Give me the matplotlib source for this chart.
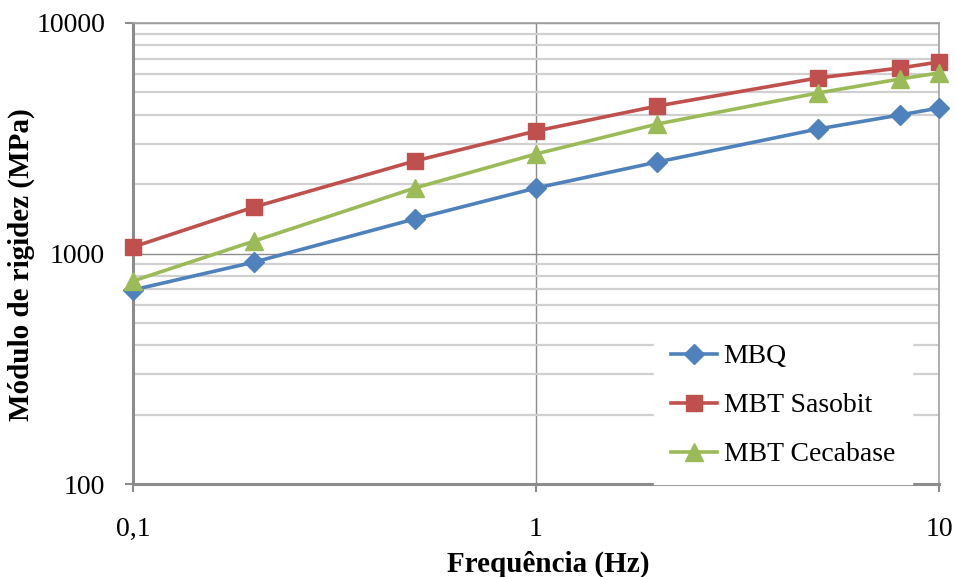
import matplotlib.pyplot as plt
import matplotlib
from matplotlib.ticker import FixedLocator, NullFormatter, FixedFormatter

matplotlib.rcParams['font.family'] = ['Liberation Serif', 'DejaVu Serif']

freq = [0.1, 0.2, 0.5, 1, 2, 5, 8, 10]
mbq = [695, 918, 1412, 1923, 2494, 3467, 3990, 4277]
sasobit = [1067, 1592, 2519, 3400, 4365, 5772, 6379, 6772]
cecabase = [760, 1133, 1923, 2703, 3646, 4969, 5715, 6070]

y_ticks = [100, 1000, 10000]
y_labels = ["100", "1000", "10000"]
x_ticks = [0.1, 1, 10]
x_labels = ["0,1", "1", "10"]

fig = plt.figure(figsize=(9.56, 5.77), dpi=100)
ax = fig.add_axes([133 / 956, 1 - 484 / 577, (939 - 133) / 956, (484 - 23) / 577])

ax.set_xscale("log")
ax.set_yscale("log")
ax.set_xlim(0.1, 10)
ax.set_ylim(100, 10000)

ax.plot(freq, mbq, color="#4F81BD", linewidth=2.6, marker="D", markersize=10, label="MBQ", clip_on=False, zorder=3)
ax.plot(freq, sasobit, color="#C0504D", linewidth=2.6, marker="s", markersize=11.5, label="MBT Sasobit", clip_on=False, zorder=3)
ax.plot(freq, cecabase, color="#9BBB59", linewidth=2.6, marker="^", markersize=12.5, label="MBT Cecabase", clip_on=False, zorder=3)

ax.yaxis.set_major_locator(FixedLocator(y_ticks))
ax.yaxis.set_major_formatter(FixedFormatter(y_labels))
minor_y = [m * d for d in (100, 1000) for m in range(2, 10)]
ax.yaxis.set_minor_locator(FixedLocator(minor_y))
ax.yaxis.set_minor_formatter(NullFormatter())
ax.xaxis.set_major_locator(FixedLocator(x_ticks))
ax.xaxis.set_major_formatter(FixedFormatter(x_labels))
ax.xaxis.set_minor_locator(FixedLocator([]))

ax.grid(True, which="major", axis="both", color="#8c8c8c", linewidth=1.0)
ax.grid(True, which="minor", axis="y", color="#d0d0d0", linewidth=1.6)
ax.set_axisbelow(True)

for side in ["left", "bottom"]:
    ax.spines[side].set_color("#8c8c8c")
    ax.spines[side].set_linewidth(2.2)
for side in ["right", "top"]:
    ax.spines[side].set_color("#a0a0a0")
    ax.spines[side].set_linewidth(1.2)

ax.tick_params(axis="y", which="major", length=6, width=1.5, color="#8c8c8c", labelsize=20, pad=14)
ax.tick_params(axis="x", which="major", length=6, width=1.5, color="#8c8c8c", labelsize=20, pad=18)
ax.tick_params(which="minor", length=0)

ax.set_ylabel("Módulo de rigidez (MPa)", fontsize=21, fontweight="bold")
ax.yaxis.set_label_coords(-0.121, 0.475)
ax.set_xlabel("Frequência (Hz)", fontsize=21, fontweight="bold")
ax.xaxis.set_label_coords(0.515, -0.145)

leg = ax.legend(loc="lower right", bbox_to_anchor=(0.966, 0.0), frameon=True, fontsize=20,
                handlelength=1.65, handletextpad=0.25, labelspacing=0.85, borderpad=0.6,
                borderaxespad=0)
leg.get_frame().set_edgecolor("white")
leg.get_frame().set_facecolor("white")
leg.get_frame().set_alpha(1)
leg.get_frame().set_boxstyle("square", pad=0)

fig.savefig("out.png", dpi=100)
